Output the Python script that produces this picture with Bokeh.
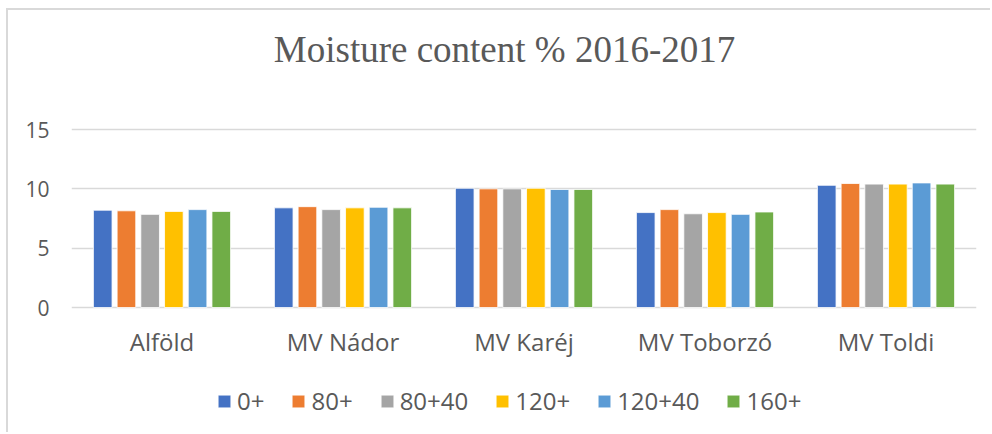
from bokeh.plotting import figure
from bokeh.models import FixedTicker, Legend, LegendItem, ColumnDataSource, FactorRange, Range1d, Label
from bokeh.transform import dodge
from bokeh.embed import file_html
from bokeh.resources import INLINE

title_text = "Moisture content % 2016-2017"
varieties = ["Alföld", "MV Nádor", "MV Karéj", "MV Toborzó", "MV Toldi"]
treatments = ["0+", "80+", "80+40", "120+", "120+40", "160+"]
s_0 = [8.2, 8.4, 10.05, 8.0, 10.3]
s_80 = [8.15, 8.5, 10.0, 8.25, 10.45]
s_80_40 = [7.85, 8.25, 10.0, 7.9, 10.4]
s_120 = [8.1, 8.4, 10.05, 8.0, 10.4]
s_120_40 = [8.25, 8.45, 9.95, 7.85, 10.5]
s_160 = [8.1, 8.4, 9.95, 8.05, 10.4]
series = [s_0, s_80, s_80_40, s_120, s_120_40, s_160]
colors = ["#4472C4", "#ED7D31", "#A5A5A5", "#FFC000", "#5B9BD5", "#70AD47"]
y_ticks = [0, 5, 10, 15]

data = {"cat": varieties}
for i, s in enumerate(series):
    data["s%d" % i] = s
source = ColumnDataSource(data)

# frame covers the full height; the value axis 0..15 sits in the middle band
p = figure(width=984, height=424, output_backend="svg", toolbar_location=None,
           x_range=FactorRange(*varieties), y_range=Range1d(-10.70, 25.03),
           min_border_left=63, min_border_right=16, min_border_top=0, min_border_bottom=0)
p.styles = {"border-left": "2px solid #d9d9d9", "border-top": "2px solid #d9d9d9",
            "margin-left": "6px", "margin-top": "8px"}
p.outline_line_color = None
p.background_fill_color = "white"
p.border_fill_color = "white"

p.add_layout(Label(x=433, y=385, x_units="screen", y_units="screen", text=title_text,
                   text_font="Liberation Serif", text_font_size="37px", text_color="#595959",
                   text_align="center", text_baseline="alphabetic"))

pitch = 0.131
renderers = []
for i, s in enumerate(series):
    r = p.vbar(x=dodge("cat", (i - 2.5) * pitch, range=p.x_range), top="s%d" % i, width=0.103,
               source=source, fill_color=colors[i], line_color="white", line_width=0.8)
    renderers.append(r)

p.xgrid.grid_line_color = None
p.ygrid.grid_line_color = "#d9d9d9"
p.ygrid.grid_line_width = 1.5
p.yaxis.ticker = FixedTicker(ticks=y_ticks)
p.xaxis.fixed_location = 0

for ax in [p.xaxis[0], p.yaxis[0]]:
    ax.axis_line_color = None
    ax.major_tick_line_color = None
    ax.minor_tick_line_color = None
    ax.major_tick_out = 0
    ax.major_tick_in = 0
    ax.major_label_text_font = "Open Sans"
    ax.major_label_text_color = "#595959"
p.yaxis.major_label_text_font_size = "21px"
p.xaxis.major_label_text_font_size = "24px"
p.yaxis.major_label_standoff = 22
p.xaxis.major_label_standoff = 17

items = [LegendItem(label=t, renderers=[r]) for t, r in zip(treatments, renderers)]
legend = Legend(items=items, orientation="horizontal", location=(145, 17),
                border_line_color=None, background_fill_alpha=0, padding=0, margin=0,
                spacing=26, label_standoff=5, glyph_width=16, glyph_height=16,
                label_text_font="Open Sans", label_text_font_size="24px",
                label_text_color="#595959")
p.add_layout(legend)

open("out.html", "w").write(file_html(p, INLINE))
